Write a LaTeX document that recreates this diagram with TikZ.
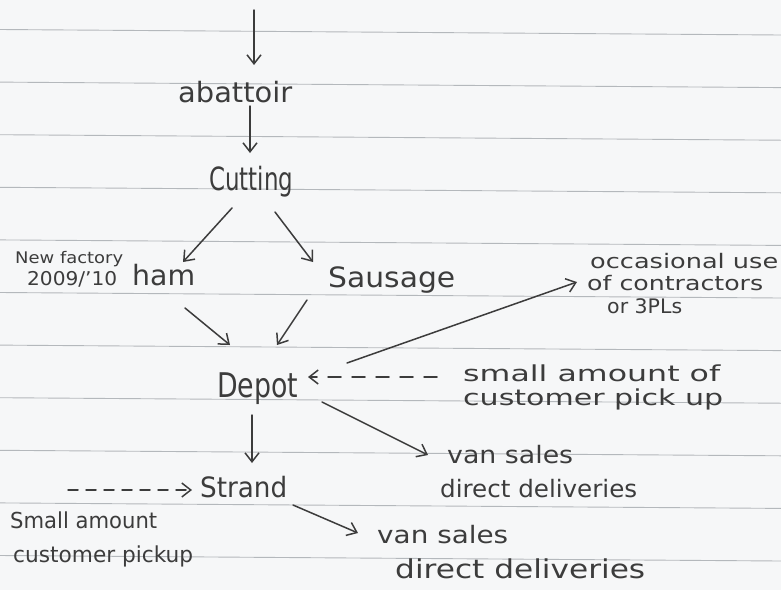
\documentclass[tikz,border=0pt]{standalone}
\usepackage{fontspec}
\setmainfont{DejaVu Sans}
\usetikzlibrary{arrows.meta,calc}
\definecolor{ink}{HTML}{3C3C3C}
\definecolor{paper}{HTML}{F6F7F8}
\definecolor{rulecol}{HTML}{B4B8BC}
\newcommand\hw[2]{\resizebox{#1}{\height}{#2}}
\begin{document}
\begin{tikzpicture}[x=1pt,y=-1pt,
  hand/.style={anchor=base west,inner sep=0pt,text=ink},
  link/.style={draw=ink,line width=1.5pt,line cap=round,
    -{Straight Barb[length=9pt,width=14pt,line width=1.5pt]}},
  dlink/.style={link,dash pattern=on 13pt off 11pt}]
\fill[paper] (0,0) rectangle (781,590);
\useasboundingbox (0,0) rectangle (781,590);
\foreach \k in {0,...,10}
  \draw[rulecol,line width=0.9pt] (0,{29.5+52.6*\k}) -- (781,{35+52.6*\k});

% nodes
\node[hand,font=\fontsize{28}{28}\selectfont] (ab) at (178,102) {\hw{114pt}{abattoir}};
\node[hand,font=\fontsize{32}{32}\selectfont] (cut) at (209,190) {\hw{84pt}{Cutting}};
\node[hand,font=\fontsize{16}{16}\selectfont] (nf) at (15,263) {\hw{108pt}{New factory}};
\node[hand,font=\fontsize{19}{19}\selectfont] (yr) at (27,285) {\hw{90pt}{2009/'10}};
\node[hand,font=\fontsize{28}{28}\selectfont] (ham) at (132,285) {\hw{63pt}{ham}};
\node[hand,font=\fontsize{28}{28}\selectfont] (sau) at (328,287) {\hw{127pt}{Sausage}};
\node[hand,font=\fontsize{34}{34}\selectfont] (dep) at (217,397) {\hw{81pt}{Depot}};
\node[hand,font=\fontsize{20}{20}\selectfont] (oc1) at (590,268) {\hw{188pt}{occasional use}};
\node[hand,font=\fontsize{20}{20}\selectfont] (oc2) at (587,290) {\hw{176pt}{of contractors}};
\node[hand,font=\fontsize{20}{20}\selectfont] (oc3) at (607,313) {\hw{75pt}{or 3PLs}};
\node[hand,font=\fontsize{22}{22}\selectfont] (sm1) at (463,381) {\hw{257pt}{small amount of}};
\node[hand,font=\fontsize{22}{22}\selectfont] (sm2) at (463,405) {\hw{260pt}{customer pick up}};
\node[hand,font=\fontsize{24}{24}\selectfont] (va1) at (447,463) {\hw{126pt}{van sales}};
\node[hand,font=\fontsize{24}{24}\selectfont] (dd1) at (440,497) {\hw{197pt}{direct deliveries}};
\node[hand,font=\fontsize{28}{28}\selectfont] (str) at (200,497) {\hw{87pt}{Strand}};
\node[hand,font=\fontsize{22}{22}\selectfont] (sa1) at (10,528) {\hw{147pt}{Small amount}};
\node[hand,font=\fontsize{22}{22}\selectfont] (sa2) at (13,562) {\hw{180pt}{customer pickup}};
\node[hand,font=\fontsize{24}{24}\selectfont] (va2) at (377,543) {\hw{131pt}{van sales}};
\node[hand,font=\fontsize{26}{26}\selectfont] (dd2) at (395,578) {\hw{250pt}{direct deliveries}};

% connectors
\coordinate (top) at (254,10);
\draw[link] (top) -- ($(ab.base west)+(76,-37)$);
\draw[link] ($(ab.base west)+(72,4)$) -- ($(cut.base west)+(41,-37)$);
\draw[link] ($(cut.base west)+(23,18)$) -- ($(ham.base west)+(51,-23)$);
\draw[link] ($(cut.base west)+(66,22)$) -- ($(sau.base west)+(-15,-25)$);
\draw[link] ($(ham.base west)+(53,23)$) -- ($(dep.base west)+(13,-52)$);
\draw[link] ($(sau.base west)+(-21,13)$) -- ($(dep.base west)+(60,-52)$);
\draw[link] ($(dep.base west)+(130,-34)$) -- ($(oc2.base west)+(-10,-8)$);
\draw[dlink] ($(sm1.base west)+(-26,-4)$) -- ($(dep.base west)+(91,-20)$);
\draw[link] ($(dep.base west)+(105,5)$) -- ($(va1.base west)+(-19,-8)$);
\draw[link] ($(dep.base west)+(35,18)$) -- ($(str.base west)+(52,-34)$);
\draw[link,dash pattern=on 10pt off 8pt] ($(sa1.base west)+(58,-38)$) -- ($(str.base west)+(-8,-7)$);
\draw[link] ($(str.base west)+(93,8)$) -- ($(va2.base west)+(-19,-10)$);
\end{tikzpicture}
\end{document}
